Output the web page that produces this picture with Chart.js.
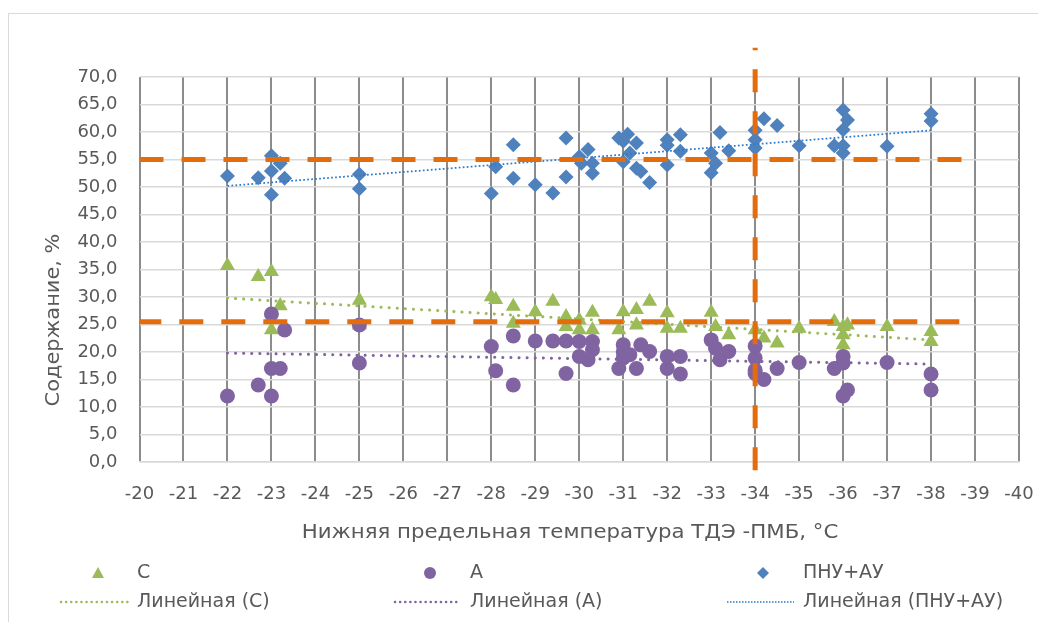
<!DOCTYPE html>
<html>
<head>
<meta charset="utf-8">
<script src="https://cdn.jsdelivr.net/npm/chart.js@4.4.1/dist/chart.umd.min.js"></script>
<style>
  body { margin: 0; background: #fff; }
  canvas { display: block; }
</style>
</head>
<body>
<canvas id="chart" width="1038" height="622"></canvas>
<script>
// points, [temperature, percent]
let seriesC = [
  [-22, 35.7], [-22.7, 33.7], [-23, 34.6], [-23.2, 28.4], [-23, 24.0], [-25, 29.4], [-25, 24.9],
  [-28, 30.0], [-28.1, 29.5], [-28.5, 28.3], [-28.5, 25.2], [-29, 27.3], [-29.4, 29.2],
  [-29.7, 26.4], [-29.7, 24.6], [-30, 25.8], [-30, 24.0], [-30.3, 27.2], [-30.3, 24.0],
  [-31, 27.3], [-30.9, 24.0], [-31.3, 27.7], [-31.3, 24.9], [-31.6, 29.2], [-32, 27.1],
  [-32, 24.3], [-32.3, 24.3], [-33, 27.2], [-33.1, 24.6], [-33.4, 23.1], [-34, 24.0],
  [-34.2, 22.5], [-34.5, 21.6], [-35, 24.3], [-35.8, 25.5], [-36, 24.6], [-36.1, 24.9],
  [-36, 23.1], [-36, 21.3], [-37, 24.6], [-38, 23.7], [-38, 21.9]
];
let seriesA = [
  [-22, 12.0], [-22.7, 14.0], [-23, 17.0], [-23.2, 17.0], [-23, 12.0], [-23, 26.9], [-23.3, 24.0],
  [-25, 24.9], [-25, 18.0], [-28, 21.0], [-28.1, 16.6], [-28.5, 22.9], [-28.5, 14.0],
  [-29, 22.0], [-29.4, 22.0], [-29.7, 22.0], [-29.7, 16.1], [-30, 21.9], [-30, 19.2],
  [-30.2, 18.6], [-30.3, 21.9], [-30.3, 20.4], [-31, 21.3], [-30.9, 17.0], [-31.3, 17.0],
  [-31, 18.9], [-31.15, 19.5], [-31.4, 21.3], [-31.6, 20.1], [-31, 20.0], [-32, 19.2],
  [-32, 17.0], [-32.3, 19.2], [-32.3, 16.0], [-33, 22.2], [-33.1, 20.7], [-33.2, 18.6],
  [-33.4, 20.1], [-34, 21.1], [-34, 18.9], [-34, 16.7], [-34, 16.1], [-34.2, 15.0],
  [-34.5, 17.0], [-35, 18.1], [-35.8, 17.0], [-36, 19.2], [-36, 18.0], [-36.1, 13.1],
  [-36, 12.0], [-37, 18.1], [-38, 16.0], [-38, 13.1]
];
let seriesPNU = [
  [-22, 52.0], [-22.7, 51.7], [-23, 55.7], [-23.2, 54.3], [-23, 52.9], [-23.3, 51.6], [-23, 48.6],
  [-25, 52.3], [-25, 49.7], [-28, 48.8], [-28.1, 53.7], [-28.5, 57.7], [-28.5, 51.6],
  [-29, 50.4], [-29.4, 48.9], [-29.7, 58.9], [-29.7, 51.8], [-30, 55.5], [-30.2, 56.8],
  [-30.05, 54.3], [-30.3, 54.3], [-30.3, 52.5], [-30.9, 58.9], [-31.1, 59.6], [-31, 58.3],
  [-31.3, 58.0], [-31, 54.6], [-31.15, 56.2], [-31.3, 53.4], [-31.4, 52.8], [-31.6, 50.8],
  [-32, 58.6], [-32, 57.6], [-32, 54.0], [-32.3, 59.5], [-32.3, 56.5], [-33.2, 59.9],
  [-33, 56.2], [-33.1, 54.3], [-33, 52.6], [-33.4, 56.6], [-34, 60.3], [-34, 58.6],
  [-34, 57.1], [-34.2, 62.4], [-34.5, 61.2], [-35, 57.5], [-35.8, 57.5], [-36, 64.0],
  [-36.1, 62.2], [-36, 60.4], [-36, 57.5], [-36, 56.2], [-37, 57.4], [-38, 63.3], [-38, 62.0]
];
// linear trend lines, ends
let trendC = [[-22, 29.8], [-38, 22.2]];
let trendA = [[-22, 19.8], [-38, 17.8]];
let trendPNU = [[-22, 50.2], [-38, 60.3]];
// orange limit lines
let limitHigh = [[-20, 55], [-39, 55]];
let limitLow = [[-19.95, 25.5], [-39, 25.5]];
let limitTemp = [[-34, -1.5], [-34, 75.3]];

let legendLabels = ['С', 'А', 'ПНУ+АУ', 'Линейная (С)', 'Линейная (А)', 'Линейная (ПНУ+АУ)'];
let xTitle = 'Нижняя предельная температура ТДЭ -ПМБ, °С';
let yTitle = 'Содержание, %';

const FONT = 'DejaVu Sans';
const TXT = '#595959';
const GREEN = '#9BBB59', PURPLE = '#8064A2', BLUE = '#4F81BD', ORANGE = '#E46C0A', TBLUE = '#2a7bc9';

const pts = arr => arr.map(p => ({ x: p[0], y: p[1] }));

function lineSet(data, color, width, dash, order, extra) {
  return Object.assign({
    type: 'scatter', data: pts(data), showLine: true, borderColor: color, borderWidth: width,
    borderDash: dash, pointRadius: 0, fill: false, order: order
  }, extra || {});
}

// text stretched a bit wider, the original font is wider than DejaVu at the same height
function wideText(ctx, text, x, y, sx) {
  ctx.save();
  ctx.translate(x, y);
  ctx.scale(sx, 1);
  ctx.fillText(text, 0, 0);
  ctx.restore();
}

const decor = {
  id: 'decor',
  beforeDraw(chart) {
    let ctx = chart.ctx;
    ctx.save();
    ctx.strokeStyle = '#d9d9d9';
    ctx.lineWidth = 1;
    ctx.strokeRect(8.5, 13.5, 1100, 700);
    ctx.restore();
  },
  afterDraw(chart) {
    let ctx = chart.ctx;
    ctx.save();
    ctx.fillStyle = TXT;
    ctx.font = '19px ' + FONT;
    ctx.textAlign = 'center';
    ctx.textBaseline = 'middle';
    wideText(ctx, xTitle, 570, 533, 1.12);
    ctx.translate(54, 320);
    ctx.rotate(-Math.PI / 2);
    wideText(ctx, yTitle, 0, 0, 1.1);
    ctx.restore();

    // legend
    ctx.save();
    ctx.font = '19px ' + FONT;
    ctx.textBaseline = 'middle';
    ctx.textAlign = 'left';
    let y1 = 573, y2 = 602;
    ctx.fillStyle = GREEN;
    ctx.beginPath();
    ctx.moveTo(98, y1 - 6); ctx.lineTo(104, y1 + 5); ctx.lineTo(92, y1 + 5); ctx.closePath(); ctx.fill();
    ctx.fillStyle = PURPLE;
    ctx.beginPath(); ctx.arc(430, y1, 6, 0, Math.PI * 2); ctx.fill();
    ctx.fillStyle = BLUE;
    ctx.beginPath();
    ctx.moveTo(763, y1 - 6); ctx.lineTo(769, y1); ctx.lineTo(763, y1 + 6); ctx.lineTo(757, y1); ctx.closePath(); ctx.fill();
    ctx.fillStyle = TXT;
    ctx.fillText(legendLabels[0], 137, y1);
    ctx.fillText(legendLabels[1], 470, y1);
    ctx.fillText(legendLabels[2], 803, y1);
    // dotted samples
    ctx.lineCap = 'round';
    ctx.lineWidth = 2.5;
    ctx.setLineDash([0.1, 5]);
    ctx.strokeStyle = GREEN;
    ctx.beginPath(); ctx.moveTo(61, y2); ctx.lineTo(129, y2); ctx.stroke();
    ctx.strokeStyle = PURPLE;
    ctx.beginPath(); ctx.moveTo(395, y2); ctx.lineTo(461, y2); ctx.stroke();
    ctx.lineCap = 'butt';
    ctx.lineWidth = 1.5;
    ctx.setLineDash([1.5, 1.5]);
    ctx.strokeStyle = TBLUE;
    ctx.beginPath(); ctx.moveTo(727, y2); ctx.lineTo(794, y2); ctx.stroke();
    ctx.setLineDash([]);
    ctx.fillText(legendLabels[3], 137, y2);
    ctx.fillText(legendLabels[4], 470, y2);
    ctx.fillText(legendLabels[5], 803, y2);
    ctx.restore();
  }
};

new Chart(document.getElementById('chart'), {
  type: 'scatter',
  data: {
    datasets: [
      lineSet(limitTemp, ORANGE, 5, [23, 19], 0, { clip: false }),
      lineSet(limitHigh, ORANGE, 5, [24, 18], 0),
      lineSet(limitLow, ORANGE, 5, [24, 18], 0),
      lineSet(trendPNU, TBLUE, 1.75, [1.75, 2.25], 1),
      lineSet(trendA, PURPLE, 3, [0.1, 8], 1, { borderCapStyle: 'round' }),
      lineSet(trendC, GREEN, 3, [0.1, 8], 1, { borderCapStyle: 'round' }),
      { label: legendLabels[2], data: pts(seriesPNU), pointStyle: 'rectRot', pointRadius: 7.5,
        backgroundColor: BLUE, borderColor: BLUE, borderWidth: 0, order: 2 },
      { label: legendLabels[1], data: pts(seriesA), pointStyle: 'circle', pointRadius: 7.5,
        backgroundColor: PURPLE, borderColor: PURPLE, borderWidth: 0, order: 3 },
      { label: legendLabels[0], data: pts(seriesC), pointStyle: 'triangle', pointRadius: 8.7,
        backgroundColor: GREEN, borderColor: GREEN, borderWidth: 0, order: 4 }
    ]
  },
  options: {
    responsive: false,
    animation: false,
    devicePixelRatio: 1,
    layout: { padding: { left: 0, top: 77, right: 0, bottom: 0 } },
    plugins: { legend: { display: false }, tooltip: { enabled: false } },
    scales: {
      x: {
        type: 'linear', min: -40, max: -20, reverse: true,
        afterFit: s => { s.height = 160; s.paddingRight = 19; },
        border: { display: true, color: '#d9d9d9', width: 1.5 },
        grid: { color: '#8c8c8c', lineWidth: 2, drawTicks: false },
        ticks: { stepSize: 1, color: TXT, font: { family: FONT, size: 18 }, padding: 22,
          maxRotation: 0, autoSkip: false, callback: v => String(v) }
      },
      y: {
        min: 0, max: 70,
        afterFit: s => { s.width = 139.5; },
        border: { display: false },
        grid: { color: '#d9d9d9', lineWidth: 1.5, drawTicks: false },
        ticks: { stepSize: 5, color: TXT, font: { family: FONT, size: 18 }, padding: 22,
          callback: v => v.toFixed(1).replace('.', ',') }
      }
    }
  },
  plugins: [decor]
});
</script>
</body>
</html>
